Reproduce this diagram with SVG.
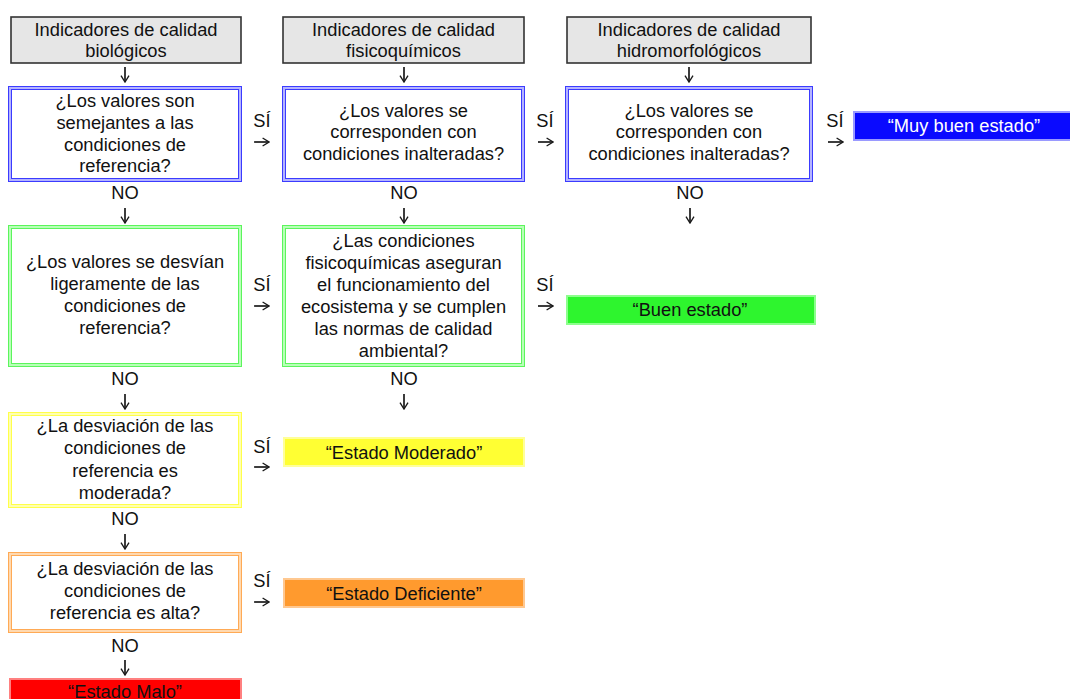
<svg xmlns="http://www.w3.org/2000/svg" width="1070" height="699" viewBox="0 0 1070 699">
<style>
  .t { font-family: "Liberation Sans", Arial, sans-serif; font-size: 18.3px; fill: #111111; text-anchor: middle; }
  .w { fill: #ffffff; }
  .hdr { fill: #e6e6e6; stroke: #333333; stroke-width: 1.6; }
  .q { fill: #ffffff; }
  .bo { fill: none; stroke: #3b3bff; stroke-width: 4; }
  .bi { fill: none; stroke: #b4b4ff; stroke-width: 2; }
  .go { fill: none; stroke: #5cf55c; stroke-width: 4; }
  .gi { fill: none; stroke: #b8ffb8; stroke-width: 2; }
  .yo { fill: none; stroke: #ffff4a; stroke-width: 4; }
  .yi { fill: none; stroke: #ffffb0; stroke-width: 2; }
  .oo { fill: none; stroke: #ffaa55; stroke-width: 4; }
  .oi { fill: none; stroke: #ffd9b0; stroke-width: 2; }
  .c { fill: none; stroke: #1a1a1a; stroke-width: 1.7; }
</style>
<defs>
  <marker id="ah" viewBox="0 0 10 12" refX="9" refY="6" markerWidth="8" markerHeight="11" markerUnits="userSpaceOnUse" orient="auto">
    <path d="M1,1 L9,6 L1,11" fill="none" stroke="#1a1a1a" stroke-width="1.7"/>
  </marker>
</defs>
<rect width="1070" height="699" fill="#ffffff"/>

<!-- headers -->
<g id="h1"><rect class="hdr" x="11" y="17" width="230" height="46"/>
  <text class="t" x="126" y="36">Indicadores de calidad</text><text class="t" x="126" y="57">biológicos</text></g>
<g id="h2"><rect class="hdr" x="283" y="17" width="241" height="46"/>
  <text class="t" x="403.5" y="36">Indicadores de calidad</text><text class="t" x="403.5" y="57">fisicoquímicos</text></g>
<g id="h3"><rect class="hdr" x="567" y="17" width="244" height="46"/>
  <text class="t" x="689" y="36">Indicadores de calidad</text><text class="t" x="689" y="57">hidromorfológicos</text></g>

<!-- row 1 -->
<g id="q1"><rect class="q" x="10" y="88" width="230" height="92"/><rect class="bo" x="10" y="88" width="230" height="92"/><rect class="bi" x="10" y="88" width="230" height="92"/>
  <text class="t" x="125" y="107">¿Los valores son</text><text class="t" x="125" y="129">semejantes a las</text><text class="t" x="125" y="150.5">condiciones de</text><text class="t" x="125" y="172">referencia?</text></g>
<g id="q2"><rect class="q" x="284" y="88" width="239" height="92"/><rect class="bo" x="284" y="88" width="239" height="92"/><rect class="bi" x="284" y="88" width="239" height="92"/>
  <text class="t" x="403.5" y="116.5">¿Los valores se</text><text class="t" x="403.5" y="138">corresponden con</text><text class="t" x="403.5" y="160">condiciones inalteradas?</text></g>
<g id="q3"><rect class="q" x="567" y="88" width="244" height="92"/><rect class="bo" x="567" y="88" width="244" height="92"/><rect class="bi" x="567" y="88" width="244" height="92"/>
  <text class="t" x="689" y="116.5">¿Los valores se</text><text class="t" x="689" y="138">corresponden con</text><text class="t" x="689" y="160">condiciones inalteradas?</text></g>
<g id="r1"><rect x="854" y="112" width="222" height="28" fill="#0a0aff" stroke="#9a9aff" stroke-width="2"/>
  <text class="t w" x="964" y="132">“Muy buen estado”</text></g>

<!-- row 2 -->
<g id="q4"><rect class="q" x="10" y="227" width="230" height="138"/><rect class="go" x="10" y="227" width="230" height="138"/><rect class="gi" x="10" y="227" width="230" height="138"/>
  <text class="t" x="125" y="268">¿Los valores se desvían</text><text class="t" x="125" y="290">ligeramente de las</text><text class="t" x="125" y="312">condiciones de</text><text class="t" x="125" y="334">referencia?</text></g>
<g id="q5"><rect class="q" x="284" y="227" width="239" height="138"/><rect class="go" x="284" y="227" width="239" height="138"/><rect class="gi" x="284" y="227" width="239" height="138"/>
  <text class="t" x="403.5" y="247">¿Las condiciones</text><text class="t" x="403.5" y="269">fisicoquímicas aseguran</text><text class="t" x="403.5" y="291">el funcionamiento del</text><text class="t" x="403.5" y="313">ecosistema y se cumplen</text><text class="t" x="403.5" y="335">las normas de calidad</text><text class="t" x="403.5" y="357">ambiental?</text></g>
<g id="r2"><rect x="567" y="296" width="248" height="28" fill="#2ef52e" stroke="#8cff8c" stroke-width="2"/>
  <text class="t" x="690" y="316">“Buen estado”</text></g>

<!-- row 3 -->
<g id="q6"><rect class="q" x="10" y="414" width="230" height="92"/><rect class="yo" x="10" y="414" width="230" height="92"/><rect class="yi" x="10" y="414" width="230" height="92"/>
  <text class="t" x="125" y="432">¿La desviación de las</text><text class="t" x="125" y="454">condiciones de</text><text class="t" x="125" y="476.5">referencia es</text><text class="t" x="125" y="499">moderada?</text></g>
<g id="r3"><rect x="284" y="438" width="240" height="28" fill="#ffff33" stroke="#ffff99" stroke-width="2"/>
  <text class="t" x="404" y="459">“Estado Moderado”</text></g>

<!-- row 4 -->
<g id="q7"><rect class="q" x="10" y="554" width="230" height="77"/><rect class="oo" x="10" y="554" width="230" height="77"/><rect class="oi" x="10" y="554" width="230" height="77"/>
  <text class="t" x="125" y="575">¿La desviación de las</text><text class="t" x="125" y="597">condiciones de</text><text class="t" x="125" y="619">referencia es alta?</text></g>
<g id="r4"><rect x="284" y="579" width="240" height="28" fill="#ff9a2e" stroke="#ffc890" stroke-width="2"/>
  <text class="t" x="404" y="600">“Estado Deficiente”</text></g>

<!-- row 5 -->
<g id="r5"><rect x="10" y="679" width="231" height="30" fill="#ff0000" stroke="#ff8080" stroke-width="2"/>
  <text class="t" x="125" y="698">“Estado Malo”</text></g>

<!-- connectors -->
<g id="connectors">
  <path class="c" marker-end="url(#ah)" d="M125,67 V82"/>
  <path class="c" marker-end="url(#ah)" d="M404,67 V82"/>
  <path class="c" marker-end="url(#ah)" d="M689,67 V82"/>
  <path class="c" marker-end="url(#ah)" d="M125,208 V223"/>
  <path class="c" marker-end="url(#ah)" d="M404,208 V223"/>
  <path class="c" marker-end="url(#ah)" d="M690,208 V223"/>
  <path class="c" marker-end="url(#ah)" d="M125,394 V409"/>
  <path class="c" marker-end="url(#ah)" d="M404,394 V409"/>
  <path class="c" marker-end="url(#ah)" d="M125,534 V549"/>
  <path class="c" marker-end="url(#ah)" d="M125,660 V675"/>
  <path class="c" marker-end="url(#ah)" d="M254,142 H269"/>
  <path class="c" marker-end="url(#ah)" d="M538,142 H553"/>
  <path class="c" marker-end="url(#ah)" d="M828,142 H843"/>
  <path class="c" marker-end="url(#ah)" d="M254,306 H269"/>
  <path class="c" marker-end="url(#ah)" d="M538,306 H553"/>
  <path class="c" marker-end="url(#ah)" d="M254,467 H269"/>
  <path class="c" marker-end="url(#ah)" d="M254,602 H269"/>
  <text class="t" x="125" y="199">NO</text>
  <text class="t" x="404" y="199">NO</text>
  <text class="t" x="690" y="199">NO</text>
  <text class="t" x="125" y="385">NO</text>
  <text class="t" x="404" y="385">NO</text>
  <text class="t" x="125" y="525">NO</text>
  <text class="t" x="125" y="652">NO</text>
  <text class="t" x="262" y="127">SÍ</text>
  <text class="t" x="545" y="127">SÍ</text>
  <text class="t" x="835" y="127">SÍ</text>
  <text class="t" x="262" y="291">SÍ</text>
  <text class="t" x="545" y="291">SÍ</text>
  <text class="t" x="262" y="453">SÍ</text>
  <text class="t" x="262" y="587">SÍ</text>
</g>
</svg>
